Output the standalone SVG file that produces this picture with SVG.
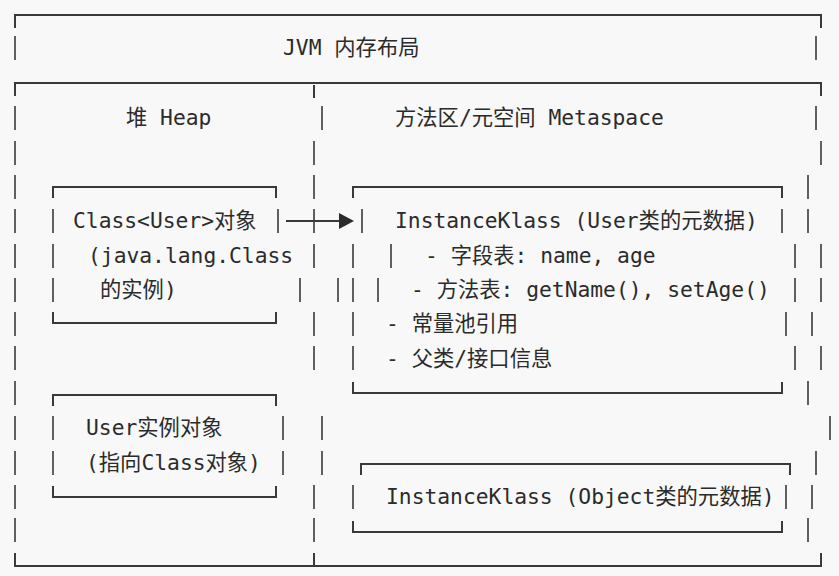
<svg xmlns="http://www.w3.org/2000/svg" width="839" height="576" viewBox="0 0 839 576">
<style>
.t{font-family:"DejaVu Sans Mono","Noto Sans CJK SC",monospace;font-size:21.3px;fill:#2b2b2b}
.l{stroke:#3a3a3a;stroke-width:2;fill:none}
.v{stroke:#3a3a3a;stroke-width:1.6}
</style>
<rect width="839" height="576" fill="#f8f8f8"/>
<g id="frame">
<path class="l" d="M15 28V15H821V28"/>
<path class="l" d="M15 96V83H821V96"/>
<path class="l" d="M15 553V566H821V553"/>
<path class="l" d="M314 85V98M314 553V566"/>
<g class="v">
<path d="M15 36v24M15 106v24M15 141v24M15 175v24M15 209v24M15 244v24M15 278v24M15 312v24M15 346v24M15 381v24M15 416v24M15 451v24M15 485v24M15 518v24"/>
<path d="M816 36v24M816 106v24M821 141v24M808 175v24M808 209v24M821 244v24M821 278v24M812 312v24M821 346v24M808 381v24M830 416v24M816 451v24M812 485v24M808 518v24"/>
<path d="M322 106v24M314 141v24M314 175v24M314 209v24M314 244v24M300 278v24M338 278v24M314 312v24M314 346v24M322 416v24M322 451v24M314 485v24M314 518v24"/>
</g>
</g>
<g id="title"><text class="t" x="283" y="55">JVM 内存布局</text></g>
<g id="heap"><text class="t" x="126" y="125">堆 Heap</text></g>
<g id="meta"><text class="t" x="395" y="125">方法区/元空间 Metaspace</text></g>
<g id="classobj">
<path class="l" d="M53 198V187H276V198M53 312V323H276V312"/>
<path class="v" d="M53 209v24M278 209v24M53 244v24M53 278v24"/>
<text class="t" x="73" y="228">Class&lt;User&gt;对象</text>
<text class="t" x="88" y="263">(java.lang.Class</text>
<text class="t" x="100" y="297">的实例)</text>
</g>
<g id="userobj">
<path class="l" d="M53 406V395H276V406M53 486V497H276V486"/>
<path class="v" d="M53 416v24M283 416v24M53 451v24M283 451v24"/>
<text class="t" x="86" y="435">User实例对象</text>
<text class="t" x="86" y="470">(指向Class对象)</text>
</g>
<g id="userklass">
<path class="l" d="M353 198V187H782V198M353 382V393H782V382"/>
<path class="v" d="M362 209v24M782 209v24M353 244v24M391 244v24M795 244v24M353 278v24M378 278v24M795 278v24M353 312v24M786 312v24M353 346v24M795 346v24"/>
<text class="t" x="395" y="228">InstanceKlass (User类的元数据)</text>
<text class="t" x="425" y="263">- 字段表: name, age</text>
<text class="t" x="411" y="297">- 方法表: getName(), setAge()</text>
<text class="t" x="386" y="331">- 常量池引用</text>
<text class="t" x="386" y="366">- 父类/接口信息</text>
</g>
<g id="objklass">
<path class="l" d="M361 475V464H790V475M353 521V532H782V521"/>
<path class="v" d="M353 485v24M786 485v24"/>
<text class="t" x="386" y="504">InstanceKlass (Object类的元数据)</text>
</g>
<g id="connectors">
<path class="l" d="M286 221H341"/>
<path d="M339 213L354 221L339 229Z" fill="#2b2b2b"/>
</g>
</svg>
